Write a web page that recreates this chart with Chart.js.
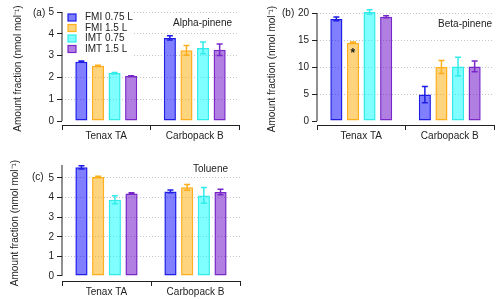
<!DOCTYPE html>
<html>
<head>
<meta charset="utf-8">
<script src="https://cdn.jsdelivr.net/npm/chart.js@4"></script>
<style>
  html, body { margin: 0; padding: 0; background: #fff; }
  #wrap { position: relative; width: 500px; height: 299px; overflow: hidden; }
  canvas { position: absolute; }
</style>
</head>
<body>
<div id="wrap">
  <canvas id="chartA" width="250" height="150" style="left:0;top:0"></canvas>
  <canvas id="chartB" width="250" height="150" style="left:250px;top:0"></canvas>
  <canvas id="chartC" width="250" height="149" style="left:0;top:150px"></canvas>
</div>
<script>
const categories = ["Tenax TA", "Carbopack B"];
const seriesNames = ["FMI 0.75 L", "FMI 1.5 L", "IMT 0.75", "IMT 1.5 L"];

// one row per series, one value per category
const alphaMeans = [[2.72, 3.81], [2.53, 3.24], [2.20, 3.35], [2.06, 3.27]];
const alphaErrors = [[0.03, 0.10], [0.03, 0.22], [0.03, 0.27], [0.02, 0.26]];

const betaMeans = [[18.9, 4.9], [14.5, 10.0], [20.2, 10.1], [19.3, 10.1]];
const betaErrors = [[0.35, 1.5], [0.15, 1.2], [0.4, 1.7], [0.2, 1.0]];

const tolueneMeans = [[5.54, 4.31], [5.05, 4.52], [3.89, 4.11], [4.21, 4.28]];
const tolueneErrors = [[0.08, 0.07], [0.03, 0.15], [0.2, 0.4], [0.03, 0.14]];

const alphaTicks = [0, 1, 2, 3, 4, 5];
const betaTicks = [0, 5, 10, 15, 20];
const tolueneTicks = [0, 1, 2, 3, 4, 5];

const starValue = 12.8; // asterisk inside the Tenax TA / FMI 1.5 L bar (beta-pinene)

const fills = ["rgba(0,0,255,0.5)", "rgba(255,170,0,0.5)", "rgba(0,255,255,0.5)", "rgba(100,0,195,0.5)"];
const borders = ["rgb(30,30,230)", "rgb(255,175,30)", "rgb(50,235,235)", "rgb(120,40,200)"];

Chart.defaults.font.family = "'Liberation Sans', Arial, sans-serif";
Chart.defaults.font.size = 10;
Chart.defaults.color = "#222";

const errorBars = {
  id: "errorBars",
  afterDatasetsDraw(chart) {
    const ctx = chart.ctx;
    const y = chart.scales.y;
    chart.data.datasets.forEach((ds, i) => {
      chart.getDatasetMeta(i).data.forEach((bar, j) => {
        const v = ds.data[j], e = ds.errors[j];
        const top = y.getPixelForValue(v + e);
        const bot = y.getPixelForValue(v - e);
        ctx.save();
        ctx.strokeStyle = ds.borderColor;
        ctx.lineWidth = 1.5;
        ctx.beginPath();
        ctx.moveTo(bar.x, top); ctx.lineTo(bar.x, bot);
        ctx.moveTo(bar.x - 3, top); ctx.lineTo(bar.x + 3, top);
        ctx.moveTo(bar.x - 3, bot); ctx.lineTo(bar.x + 3, bot);
        ctx.stroke();
        ctx.restore();
      });
    });
  }
};

const panelText = {
  id: "panelText",
  beforeDatasetsDraw(chart, args, opts) {
    if (!opts.legend) return;
    const ctx = chart.ctx;
    const area = chart.chartArea;
    ctx.save();
    ctx.fillStyle = "#fff";
    ctx.fillRect(area.left + 1, area.top - 1, 69, 47);
    ctx.font = "10px 'Liberation Sans', Arial, sans-serif";
    ctx.textBaseline = "middle";
    chart.data.datasets.forEach((ds, k) => {
      const ry = 17.5 + k * 10.5;
      ctx.fillStyle = ds.backgroundColor;
      ctx.fillRect(68, ry - 3.5, 8, 7);
      ctx.strokeStyle = ds.borderColor;
      ctx.lineWidth = 1.2;
      ctx.strokeRect(68, ry - 3.5, 8, 7);
      ctx.fillStyle = "#222";
      ctx.fillText(ds.label, 85, ry);
    });
    ctx.restore();
  },
  afterDraw(chart, args, opts) {
    const ctx = chart.ctx;
    const area = chart.chartArea;
    const y = chart.scales.y;
    ctx.save();
    // y axis line stops at zero, the x axis sits a bit lower
    ctx.strokeStyle = "#222";
    ctx.lineWidth = 1;
    ctx.beginPath();
    ctx.moveTo(area.left, area.top);
    ctx.lineTo(area.left, y.getPixelForValue(0));
    ctx.stroke();

    ctx.fillStyle = "#222";
    ctx.font = "10px 'Liberation Sans', Arial, sans-serif";
    ctx.textBaseline = "middle";
    ctx.textAlign = "left";
    ctx.fillText(opts.label, opts.labelX, opts.labelY);
    ctx.textAlign = "right";
    ctx.fillText(opts.name, opts.nameX, opts.nameY);

    if (opts.star) {
      const bar = chart.getDatasetMeta(opts.star.dataset).data[opts.star.index];
      ctx.textAlign = "center";
      ctx.font = "bold 12px 'Liberation Sans', Arial, sans-serif";
      ctx.fillText("*", bar.x, y.getPixelForValue(opts.star.value) + 2);
    }
    ctx.restore();
  }
};

function makeChart(id, means, errors, ticks, cfg) {
  return new Chart(document.getElementById(id), {
    type: "bar",
    data: {
      labels: categories,
      datasets: seriesNames.map((name, k) => ({
        label: name,
        data: means[k],
        errors: errors[k],
        backgroundColor: fills[k],
        borderColor: borders[k],
        borderWidth: 1.5,
        borderSkipped: false,
        categoryPercentage: 0.75,
        barPercentage: 0.73,
        clip: false
      }))
    },
    options: {
      responsive: false,
      animation: false,
      layout: { padding: cfg.padding },
      plugins: {
        legend: { display: false },
        tooltip: { enabled: false },
        panelText: cfg.text
      },
      scales: {
        x: {
          grid: { offset: true, drawOnChartArea: false, tickLength: 5, tickColor: "#222" },
          border: { color: "#222", width: 1 },
          ticks: { padding: 0, color: "#222", maxRotation: 0 },
          afterFit(s) { s.height = cfg.xHeight; }
        },
        y: {
          min: cfg.min,
          max: cfg.max,
          afterBuildTicks(s) { s.ticks = ticks.map(v => ({ value: v })); },
          grid: {
            color: c => (c.tick && c.tick.value === 0) ? "rgba(0,0,0,0)" : "#c4c4c4",
            tickColor: "#222",
            tickLength: 5,
            tickBorderDash: []
          },
          border: { display: false, dash: [1, 2] },
          ticks: { padding: 3, color: "#222" },
          title: {
            display: true,
            text: "Amount fraction (nmol mol\u207B\u00B9)",
            color: "#222",
            font: { size: 10 },
            padding: { top: cfg.titlePad, bottom: 0 }
          },
          afterFit(s) { s.width = cfg.yWidth; }
        }
      }
    },
    plugins: [errorBars, panelText]
  });
}

makeChart("chartA", alphaMeans, alphaErrors, alphaTicks, {
  padding: { left: 0, top: 12, right: 11, bottom: 0 },
  xHeight: 25, yWidth: 62, min: -0.183, max: 5, titlePad: 12,
  text: { label: "(a)", labelX: 33, labelY: 13, name: "Alpha-pinene", nameX: 232, nameY: 23, legend: true }
});

makeChart("chartB", betaMeans, betaErrors, betaTicks, {
  padding: { left: 0, top: 13, right: 6, bottom: 0 },
  xHeight: 25, yWidth: 67, min: -0.74, max: 20, titlePad: 16,
  text: { label: "(b)", labelX: 32, labelY: 13, name: "Beta-pinene", nameX: 242, nameY: 24,
          star: { dataset: 1, index: 0, value: starValue } }
});

makeChart("chartC", tolueneMeans, tolueneErrors, tolueneTicks, {
  padding: { left: 0, top: 15, right: 10, bottom: 0 },
  xHeight: 18, yWidth: 62, min: -0.255, max: 5.66, titlePad: 9,
  text: { label: "(c)", labelX: 32, labelY: 27, name: "Toluene", nameX: 228, nameY: 19 }
});
</script>
</body>
</html>
